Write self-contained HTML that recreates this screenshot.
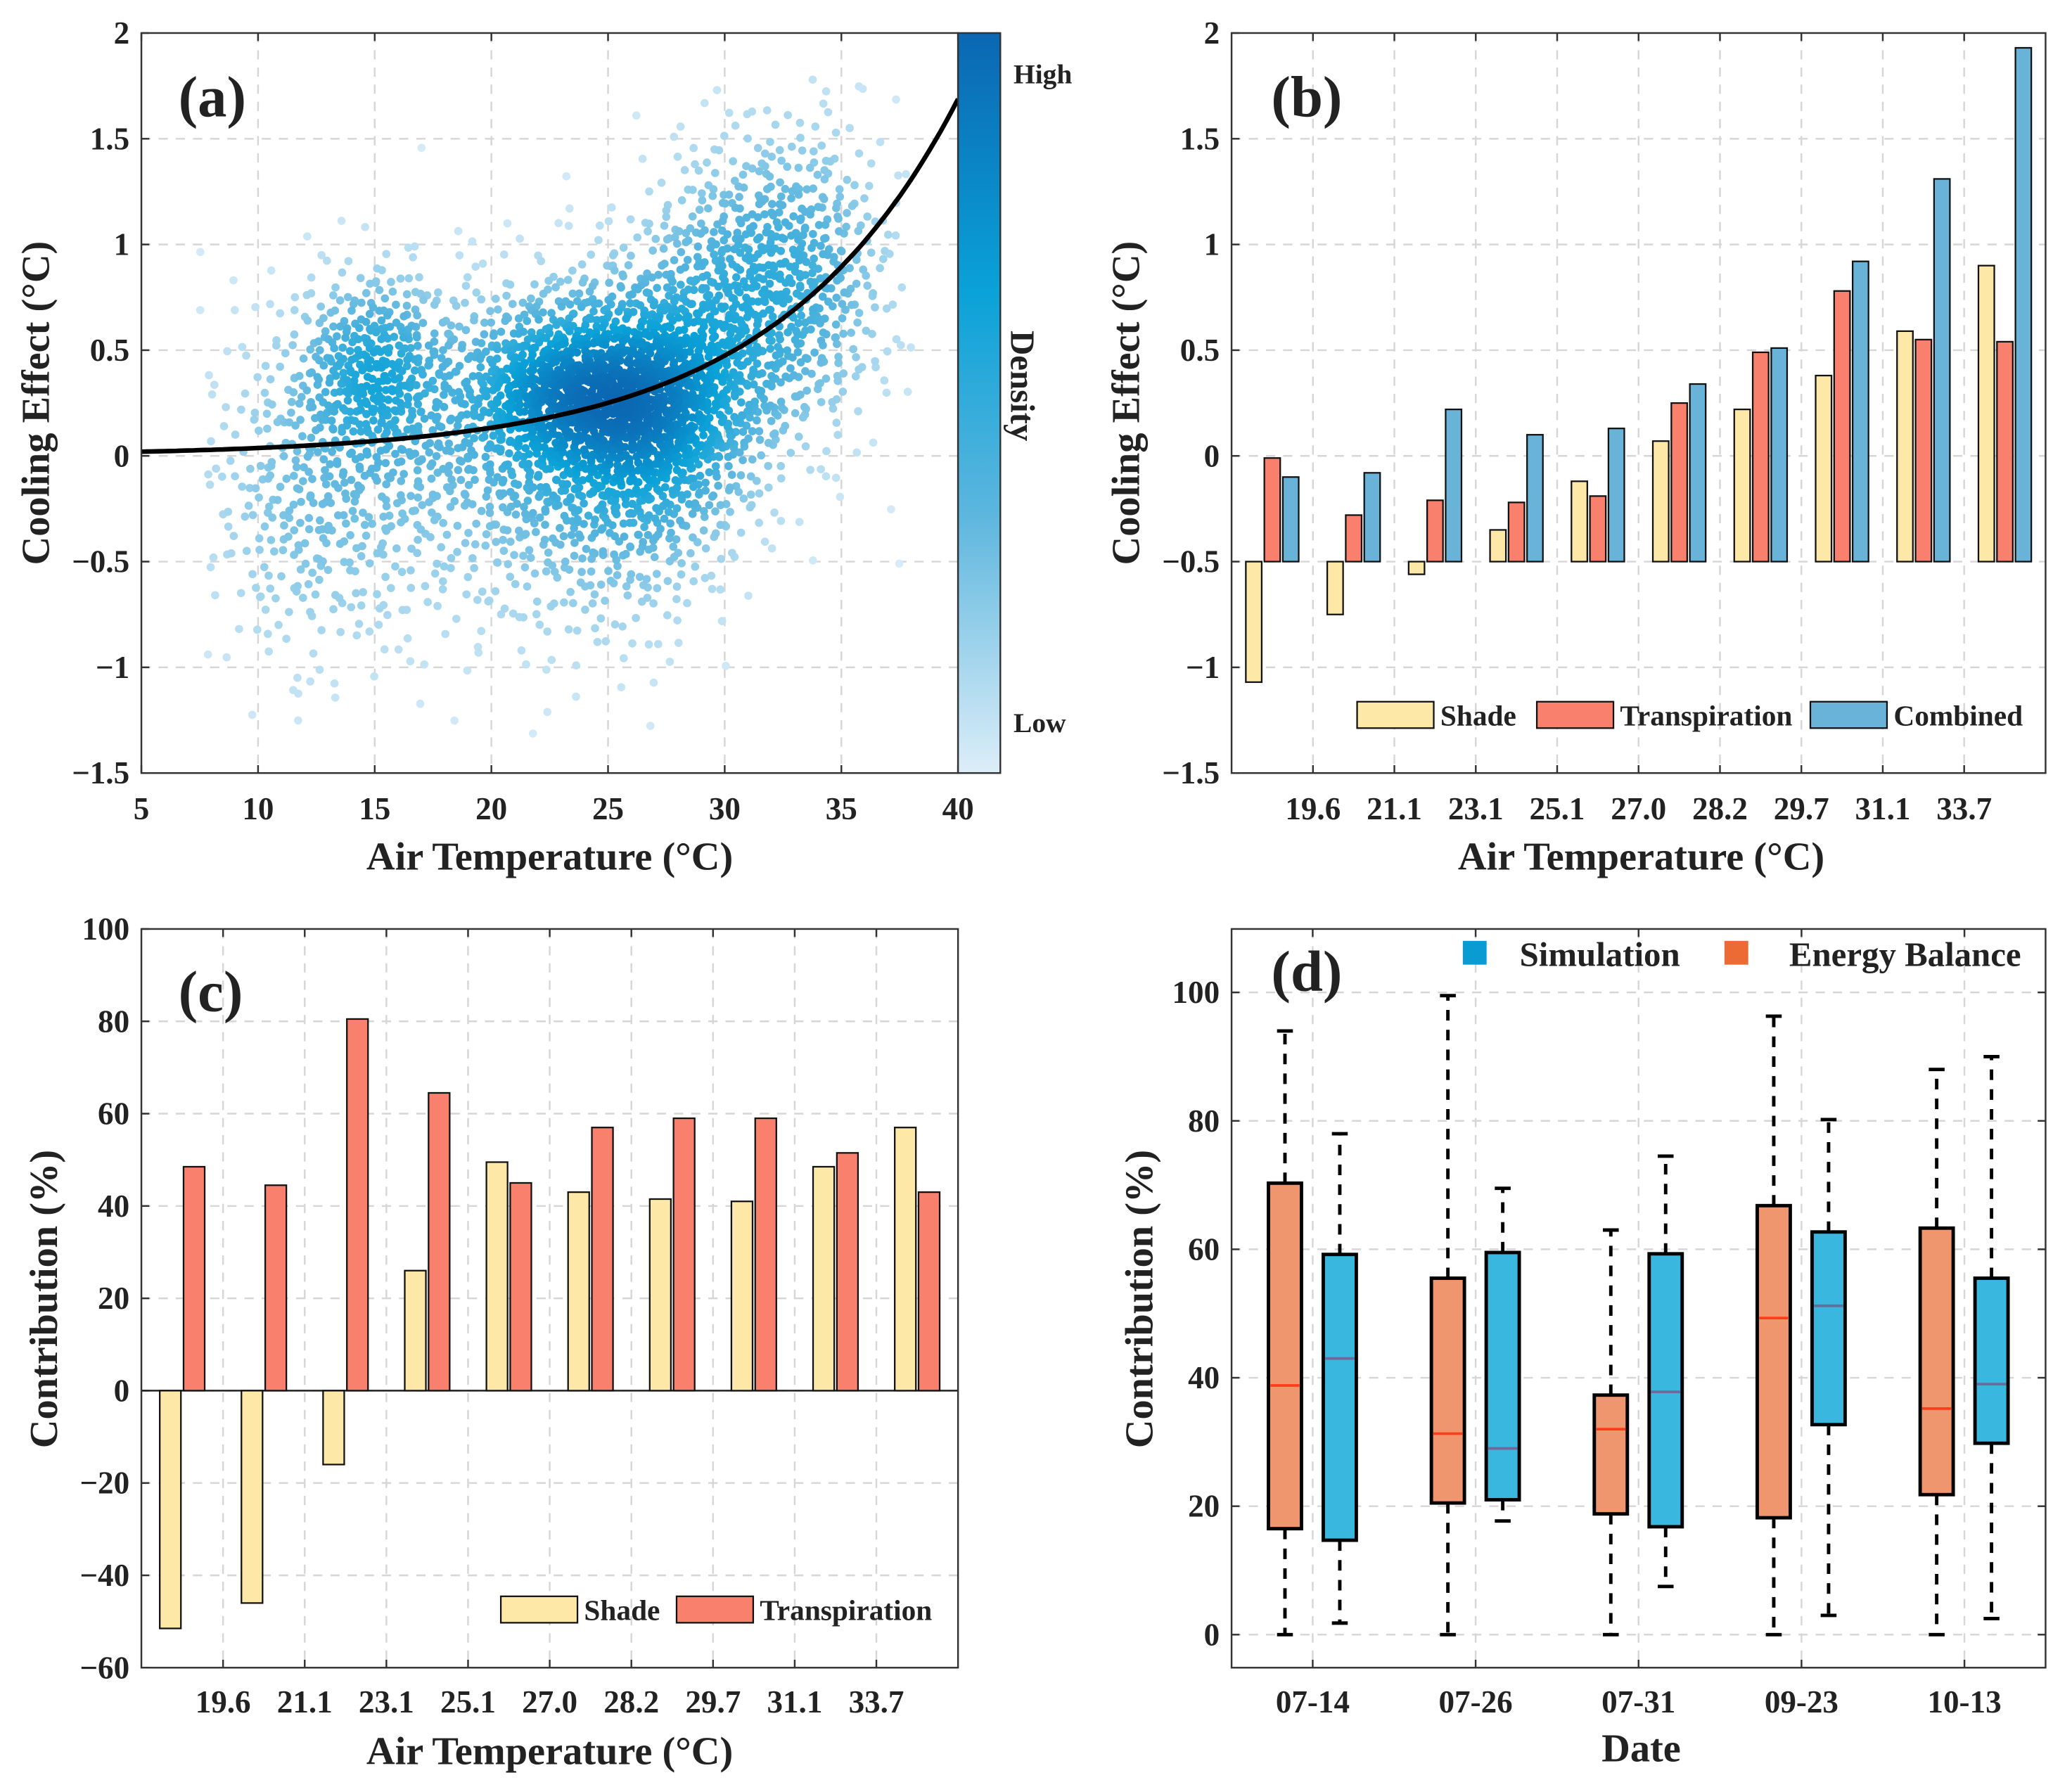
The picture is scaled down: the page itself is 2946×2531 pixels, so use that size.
<!DOCTYPE html>
<html><head><meta charset="utf-8"><style>
html,body{margin:0;padding:0;background:#fff}
svg{display:block}
text{font-family:"Liberation Serif","Times New Roman",serif;font-weight:bold;fill:#222}
</style></head><body>
<svg id="fig" xmlns="http://www.w3.org/2000/svg" width="2946" height="2531" viewBox="0 0 1568 1347" preserveAspectRatio="none">
<defs>
<linearGradient id="cbg" x1="0" y1="1" x2="0" y2="0">
<stop offset="0" stop-color="#dcEEF8"/><stop offset="0.35" stop-color="#5cb6de"/><stop offset="0.65" stop-color="#0aa2d8"/><stop offset="1" stop-color="#0b67b3"/>
</linearGradient>
<clipPath id="clipA"><rect x="107" y="25" width="618" height="560"/></clipPath>
</defs>
</svg>
<script>
// ---- data ----
const scatterCx = [15, 23, 27, 31, 18, 12, 34, 25];
const scatterCy = [0.4, 0.3, 0.25, 0.75, 0.0, -0.2, 0.9, -0.2];
const scatterSx = [1.8, 2.5, 2.4, 2.5, 4.0, 2.5, 2.0, 3.0];
const scatterSy = [0.25, 0.25, 0.33, 0.4, 0.45, 0.45, 0.4, 0.4];
const scatterN = [300, 650, 850, 550, 450, 250, 200, 350];
const fitA = 0.0105, fitB = 0.127;
const aXTicks = [5,10,15,20,25,30,35,40];
const abYTicks = [-1.5,-1,-0.5,0,0.5,1,1.5,2];
const abYLabels = ["\u22121.5","\u22121","\u22120.5","0","0.5","1","1.5","2"];
const tempLabels = ["19.6","21.1","23.1","25.1","27.0","28.2","29.7","31.1","33.7"];
const bShade = [-1.07,-0.75,-0.56,-0.35,-0.12,0.07,0.22,0.38,0.59,0.90];
const bTransp = [-0.01,-0.28,-0.21,-0.22,-0.19,0.25,0.49,0.78,0.55,0.54];
const bCombined = [-0.10,-0.08,0.22,0.10,0.13,0.34,0.51,0.92,1.31,1.93];
const cShade = [-51.5,-46,-16,26,49.5,43,41.5,41,48.5,57];
const cTransp = [48.5,44.5,80.5,64.5,45,57,59,59,51.5,43];
const cYTicks = [-60,-40,-20,0,20,40,60,80,100];
const cYLabels = ["\u221260","\u221240","\u221220","0","20","40","60","80","100"];
const dDates = ["07-14","07-26","07-31","09-23","10-13"];
const dYTicks = [0,20,40,60,80,100];
const ebQ1 = [16.5,20.5,18.8,18.2,21.8], ebMed=[38.8,31.3,32,49.3,35.2], ebQ3=[70.3,55.5,37.3,66.8,63.3], ebLo=[0,0,0,0,0], ebHi=[94,99.5,63,96.3,88];
const simQ1 = [14.7,21,16.8,32.7,29.8], simMed=[43,29,37.8,51.2,39], simQ3=[59.2,59.5,59.3,62.7,55.5], simLo=[1.8,17.7,7.5,3,2.5], simHi=[78,69.5,74.5,80.2,90];

const NS="http://www.w3.org/2000/svg";
const svg=document.getElementById('fig');
const TK=24, AT=30, LG=22;
function mk(tag,attrs,parent){const e=document.createElementNS(NS,tag);for(const k in attrs)e.setAttribute(k,attrs[k]);(parent||svg).appendChild(e);return e;}
function txt(s,x,y,size,anchor,parent){const t=mk('text',{x:x,y:y,'font-size':size,'text-anchor':anchor||'middle'},parent);t.textContent=s;return t;}
const GRID={stroke:'#d6d6d6','stroke-width':1.3,'stroke-dasharray':'7,6'};

function frame(x0,y0,x1,y1,name){
  const r=mk('rect',{x:x0,y:y0,width:x1-x0,height:y1-y0,fill:'none',stroke:'#333','stroke-width':1.3});
  
  
}
function hgrid(x0,x1,y,name){const l=mk('line',Object.assign({x1:x0,x2:x1,y1:y,y2:y},GRID));}
function vgrid(y0,y1,x,name){const l=mk('line',Object.assign({x1:x,x2:x,y1:y0,y2:y1},GRID));}
function tick(x1,y1,x2,y2){const l=mk('line',{x1:x1,y1:y1,x2:x2,y2:y2,stroke:'#333','stroke-width':1.3});}

// ================= Panel A =================
const xa=v=>107+(v-5)/35*618, ya=v=>585-(v+1.5)/3.5*560;
aXTicks.forEach(v=>{ if(v>5&&v<40) vgrid(25,585,xa(v),'grid-line-x');
  tick(xa(v),585,xa(v),579); tick(xa(v),25,xa(v),31);
  const t=txt(String(v),xa(v),620,TK);  });
abYTicks.forEach((v,i)=>{ if(v>-1.5&&v<2) hgrid(107,725,ya(v),'grid-line-y');
  tick(107,ya(v),113,ya(v));
  const t=txt(abYLabels[i],98,ya(v)+8,TK,'end');  });
function halton(i,b){let f=1,r=0;while(i>0){f/=b;r+=f*(i%b);i=Math.floor(i/b);}return r;}
function dens(x,y){let s=0;for(let k=0;k<scatterCx.length;k++){const dx=(x-scatterCx[k])/scatterSx[k],dy=(y-scatterCy[k])/scatterSy[k];s+=scatterN[k]/(scatterSx[k]*scatterSy[k])*Math.exp(-0.5*(dx*dx+dy*dy));}return s;}
function lerp(a,b,t){return a+(b-a)*t;}
const cstops=[[0,[216,236,248]],[0.35,[92,182,222]],[0.65,[10,162,216]],[1,[11,103,179]]];
function cmap(t){t=Math.max(0,Math.min(1,t));for(let i=1;i<cstops.length;i++){if(t<=cstops[i][0]){const a=cstops[i-1],b=cstops[i];const u=(t-a[0])/(b[0]-a[0]);return 'rgb('+a[1].map((c,j)=>Math.round(lerp(c,b[1][j],u))).join(',')+')';}}return 'rgb(11,103,179)';}
const scat=mk('g',{'clip-path':'url(#clipA)'});


let idx=1;const pts=[];
for(let k=0;k<scatterCx.length;k++){for(let n=0;n<scatterN[k];n++){idx++;
  const u1=Math.max(1e-4,halton(idx,2)),u2=halton(idx,3);
  const r=Math.sqrt(-2*Math.log(u1));
  const x=scatterCx[k]+scatterSx[k]*r*Math.cos(2*Math.PI*u2);
  const y=scatterCy[k]+scatterSy[k]*r*Math.sin(2*Math.PI*u2);
  if(x<7.5||x>38||y<-1.4||y>1.8)continue; pts.push([x,y,dens(x,y)]);}}
const dmax=Math.max(...pts.map(p=>p[2]));
pts.sort((a,b)=>a[2]-b[2]);
pts.forEach(p=>{const c=mk('circle',{cx:xa(p[0]).toFixed(1),cy:ya(p[1]).toFixed(1),r:3.1,fill:cmap(Math.pow(p[2]/dmax,0.7))},scat);
  
  });
let dpath='';for(let v=5;v<=40.01;v+=0.25){dpath+=(v===5?'M':'L')+xa(v).toFixed(1)+','+ya(fitA*Math.exp(fitB*v)).toFixed(1);}
const fit=mk('path',{d:dpath,fill:'none',stroke:'#000','stroke-width':3.5,'clip-path':'url(#clipA)'});


frame(107,25,725,585,'axes-a');
const cb=mk('rect',{x:725,y:25,width:32,height:560,fill:'url(#cbg)',stroke:'#333','stroke-width':1.3});


let t;
t=txt('High',767,63,21,'start');
t=txt('Low',767,554,21,'start');
t=txt('Density',0,0,26);t.setAttribute('transform','translate(765,292) rotate(90)');
t=txt('(a)',135,88,44,'start');
t=txt('Air Temperature (\u00B0C)',416,658,AT);
t=txt('Cooling Effect (\u00B0C)',0,0,AT);t.setAttribute('transform','translate(37,305) rotate(-90)');

// ================= Panel B =================
const xb=i=>932+(i+0.5)*61.6, yb=v=>585-(v+1.5)/3.5*560;
tempLabels.forEach((s,i)=>{const x=xb(i+0.5);vgrid(25,585,x,'grid-line-x');tick(x,585,x,579);tick(x,25,x,31);
  const tt=txt(s,x,620,TK);});
abYTicks.forEach((v,i)=>{ if(v>-1.5&&v<2) hgrid(932,1548,yb(v),'grid-line-y'); tick(932,yb(v),938,yb(v));
  const tt=txt(abYLabels[i],923,yb(v)+8,TK,'end');});
const bSeries=[[bShade,'#fde8a8',-14,'bar-shade'],[bTransp,'#f8806d',0,'bar-transpiration'],[bCombined,'#6ab3d8',14,'bar-combined']];
bSeries.forEach(s=>{s[0].forEach((v,i)=>{const y0=yb(-0.5),y1=yb(v);
  const r=mk('rect',{x:xb(i)+s[2]-6,y:Math.min(y0,y1),width:12,height:Math.abs(y1-y0),fill:s[1],stroke:'#111','stroke-width':1.2});
  
  });});
frame(932,25,1548,585,'axes-b');
function legendItem(x,y,w,h,color,label,name,size){
  const r=mk('rect',{x:x,y:y,width:w,height:h,fill:color,stroke:'#111','stroke-width':1.2});
  
  
  const tt=txt(label,x+w+5,y+h-2,size||LG,'start');
  
  
}
legendItem(1027,531,58,20,'#fde8a8','Shade','legend-b-shade');
legendItem(1163,531,58,20,'#f8806d','Transpiration','legend-b-transpiration');
legendItem(1370,531,58,20,'#6ab3d8','Combined','legend-b-combined');
t=txt('(b)',962,88,44,'start');
t=txt('Air Temperature (\u00B0C)',1242,658,AT);
t=txt('Cooling Effect (\u00B0C)',0,0,AT);t.setAttribute('transform','translate(862,305) rotate(-90)');

// ================= Panel C =================
const xc=i=>107+(i+0.5)*61.8, yc=v=>1262-(v+60)/160*559;
tempLabels.forEach((s,i)=>{const x=xc(i+0.5);vgrid(703,1262,x,'grid-line-x');tick(x,1262,x,1256);tick(x,703,x,709);
  const tt=txt(s,x,1296,TK);});
cYTicks.forEach((v,i)=>{ if(v>-60&&v<100) hgrid(107,725,yc(v),'grid-line-y'); tick(107,yc(v),113,yc(v));
  const tt=txt(cYLabels[i],98,yc(v)+8,TK,'end');});
const zl=mk('line',{x1:107,x2:725,y1:yc(0),y2:yc(0),stroke:'#222','stroke-width':1.3});


[[cShade,'#fde8a8',-9,'bar-shade'],[cTransp,'#f8806d',9,'bar-transpiration']].forEach(s=>{s[0].forEach((v,i)=>{const y0=yc(0),y1=yc(v);
  const r=mk('rect',{x:xc(i)+s[2]-8,y:Math.min(y0,y1),width:16,height:Math.abs(y1-y0),fill:s[1],stroke:'#111','stroke-width':1.2});
  
  });});
frame(107,703,725,1262,'axes-c');
legendItem(379,1208,58,20,'#fde8a8','Shade','legend-c-shade');
legendItem(512,1208,58,20,'#f8806d','Transpiration','legend-c-transpiration');
t=txt('(c)',135,765,44,'start');
t=txt('Air Temperature (\u00B0C)',416,1335,AT);
t=txt('Contribution (%)',0,0,AT);t.setAttribute('transform','translate(43,983) rotate(-90)');

// ================= Panel D =================
const xd=i=>993.4+i*123.3, yd=v=>1237-v*4.86;
dDates.forEach((s,i)=>{const x=xd(i);vgrid(703,1262,x,'grid-line-x');tick(x,1262,x,1256);tick(x,703,x,709);
  const tt=txt(s,x,1296,TK);});
dYTicks.forEach(v=>{hgrid(932,1548,yd(v),'grid-line-y');tick(932,yd(v),938,yd(v));tick(1548,yd(v),1542,yd(v));
  const tt=txt(String(v),923,yd(v)+8,TK,'end');});
function box(cx,q1,med,q3,lo,hi,fill,medc,name){
  const g=mk('g',{});
  
  
  const W={stroke:'#000','stroke-width':2.6,'stroke-dasharray':'8,7'};
  mk('line',Object.assign({x1:cx,x2:cx,y1:yd(q3),y2:yd(hi)},W),g);
  mk('line',Object.assign({x1:cx,x2:cx,y1:yd(q1),y2:yd(lo)},W),g);
  mk('line',{x1:cx-6,x2:cx+6,y1:yd(hi),y2:yd(hi),stroke:'#000','stroke-width':2.6},g);
  mk('line',{x1:cx-6,x2:cx+6,y1:yd(lo),y2:yd(lo),stroke:'#000','stroke-width':2.6},g);
  mk('rect',{x:cx-12.5,y:yd(q3),width:25,height:yd(q1)-yd(q3),fill:fill,stroke:'#000','stroke-width':2.6},g);
  mk('line',{x1:cx-11,x2:cx+11,y1:yd(med),y2:yd(med),stroke:medc,'stroke-width':2},g);
}
dDates.forEach((s,i)=>{
  box(xd(i)-21,ebQ1[i],ebMed[i],ebQ3[i],ebLo[i],ebHi[i],'#f0966f','#ff3b1a','box-energy-balance');
  box(xd(i)+20.5,simQ1[i],simMed[i],simQ3[i],simLo[i],simHi[i],'#39b7df','#6b6a98','box-simulation');
});
frame(932,703,1548,1262,'axes-d');
let sq=mk('rect',{x:1107,y:712,width:18,height:18,fill:'#0a9bd3'});


t=txt('Simulation',1150,731,26,'start');
sq=mk('rect',{x:1305,y:712,width:18,height:18,fill:'#ec6a33'});


t=txt('Energy Balance',1354,731,26,'start');
t=txt('(d)',962,750,44,'start');
t=txt('Date',1242,1333,AT);
t=txt('Contribution (%)',0,0,AT);t.setAttribute('transform','translate(872,983) rotate(-90)');
</script>
</body></html>
